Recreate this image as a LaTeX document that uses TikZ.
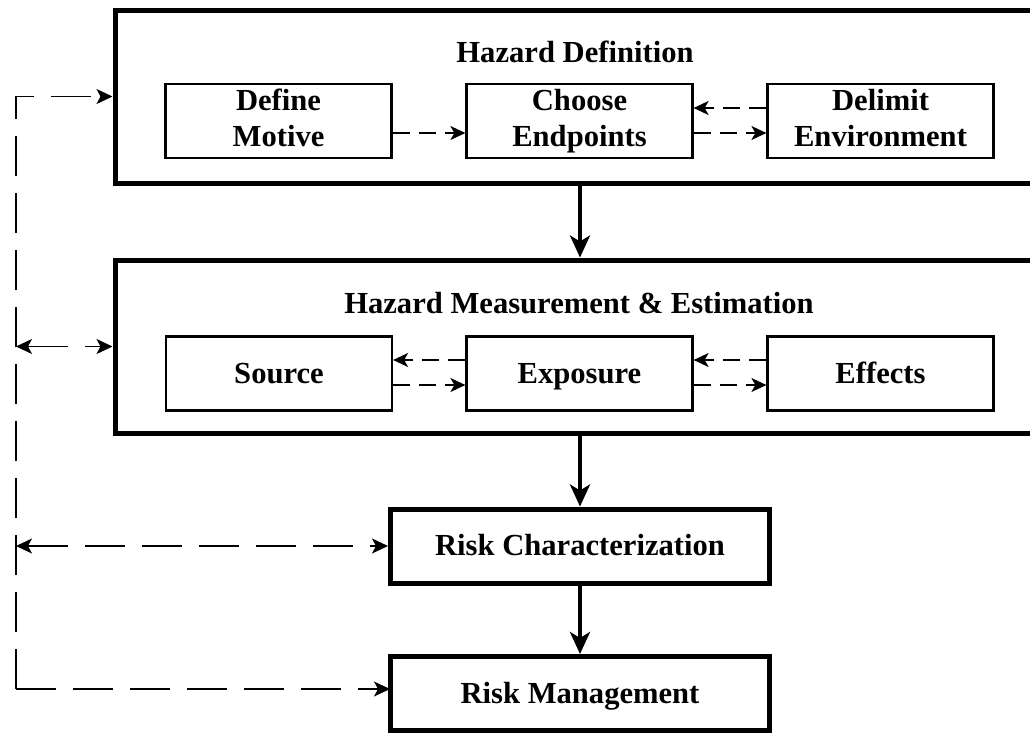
\documentclass[tikz,border=0pt]{standalone}
\usepackage{fontspec}
\setmainfont{Liberation Serif}
\usetikzlibrary{arrows.meta}
\begin{document}
\begin{tikzpicture}[x=1pt,y=-1pt,
  lbl/.style={font=\bfseries\fontsize{30.6}{36}\selectfont, align=center},
  oneline/.style={text height=19pt, text depth=0pt},
  twoline/.style={text height=50pt, text depth=0pt},
  outerbox/.style={draw, line width=5pt, minimum width=930pt, minimum height=173pt, inner sep=0pt},
  subbox/.style={draw, line width=2.2pt, minimum width=226pt, minimum height=74pt, inner sep=0pt, lbl},
  riskbox/.style={draw, line width=5pt, minimum width=379pt, minimum height=74pt, inner sep=0pt, lbl, oneline},
  flow/.style={line width=4.5pt, -{Stealth[length=22pt,width=20pt,inset=6pt]}},
  link/.style={line width=1.4pt, dash pattern=on 17pt off 9pt, -{Stealth[length=15pt,width=14pt,inset=4pt]}},
  rail/.style={line width=1.4pt, dash pattern=on 40pt off 17pt},
  tip/.style={Stealth[length=16pt,width=15pt,inset=4pt]},
  feedback/.style={rail, -{Stealth[length=16pt,width=15pt,inset=4pt]}},
  feedbackboth/.style={rail, {Stealth[length=16pt,width=15pt,inset=4pt]}-{Stealth[length=16pt,width=15pt,inset=4pt]}}
]
\clip (0,0) rectangle (1030,734);
\fill[white] (0,0) rectangle (1030,734);

% stage 1: hazard definition
\node[outerbox] (hd) at (580,96.5) {};
\node[lbl, anchor=base] (hdtitle) at (575,62) {Hazard Definition};
\node[subbox, twoline] (dm) at (278.5,121) {Define\\Motive};
\node[subbox, twoline] (ce) at (579.5,121) {Choose\\Endpoints};
\node[subbox, twoline] (de) at (880.5,121) {Delimit\\Environment};
\draw[link] ([yshift=-12pt]dm.east) -- ([yshift=-12pt]ce.west);
\draw[link] ([yshift=13pt]de.west) -- ([yshift=13pt]ce.east);
\draw[link] ([yshift=-12pt]ce.east) -- ([yshift=-12pt]de.west);

% stage 2: hazard measurement and estimation
\node[outerbox] (hm) at (580,346.5) {};
\node[lbl, anchor=base] (hmtitle) at (579,313) {Hazard Measurement \& Estimation};
\node[subbox, oneline] (src) at (279,373.5) {Source};
\node[subbox, oneline] (exp) at (579.5,373.5) {Exposure};
\node[subbox, oneline] (eff) at (880.5,373.5) {Effects};
\draw[link] ([yshift=13.5pt]exp.west) -- ([yshift=13.5pt]src.east);
\draw[link] ([yshift=-11.5pt]src.east) -- ([yshift=-11.5pt]exp.west);
\draw[link] ([yshift=13.5pt]eff.west) -- ([yshift=13.5pt]exp.east);
\draw[link] ([yshift=-11.5pt]exp.east) -- ([yshift=-11.5pt]eff.west);

% stages 3 and 4
\node[riskbox] (rc) at (580,546) {Risk Characterization};
\node[riskbox] (rm) at (580,693.5) {Risk Management};

% main flow
\draw[flow] (hd.south) -- (hm.north);
\draw[flow] (hm.south) -- (rc.north);
\draw[flow] (rc.south) -- (rm.north);

% feedback rail on the left
\coordinate (rail) at (16,0);
\coordinate (rmin) at (390,689);
\draw[feedback] (rail |- rmin) -- (rmin);
\draw[feedback] (rail |- rmin) -- (rail |- hd.west) -- (hd.west);
\draw[feedbackboth] (rail |- hm.west) -- (hm.west);
\draw[feedbackboth] (rail |- rc.west) -- (rc.west);
\end{tikzpicture}
\end{document}
